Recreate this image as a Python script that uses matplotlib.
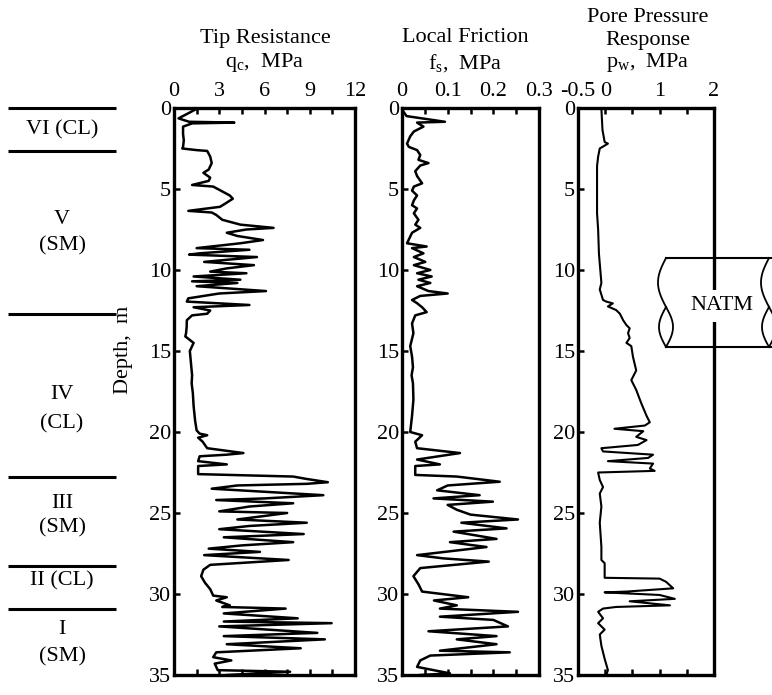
import numpy as np
import matplotlib
matplotlib.use("Agg")
import matplotlib.pyplot as plt

plt.rcParams['font.family'] = ['Liberation Serif', 'DejaVu Serif']
plt.rcParams['mathtext.fontset'] = 'custom'
plt.rcParams['mathtext.rm'] = 'Liberation Serif'
plt.rcParams['mathtext.it'] = 'Liberation Serif:italic'

# ---------------- data (depth in m, values in MPa) ----------------
qc_depth = [0.05, 0.3, 0.64, 0.85, 0.9, 0.95, 1.15, 1.6, 2.0, 2.4, 2.5, 2.6, 2.65, 3.0, 3.4, 3.8, 4.0, 4.3, 4.5, 4.75,
            4.85, 5.2, 5.4, 5.6, 5.9, 6.1, 6.35, 6.45, 6.6, 6.9, 7.2, 7.3, 7.4, 7.5, 7.7, 7.9, 8.15, 8.35, 8.65, 8.75,
            8.97, 9.05, 9.2, 9.5, 9.7, 9.9, 10.1, 10.2, 10.4, 10.6, 10.7, 10.8, 11.0, 11.3, 11.45, 11.75, 11.95, 12.16,
            12.3, 12.5, 12.7, 12.8, 13.1, 13.5, 13.9, 14.1, 14.5, 15.0, 15.5, 16.0, 16.5, 17.0, 17.6, 18.4, 19.3, 19.9,
            20.1, 20.2, 20.35, 20.6, 21.0, 21.3, 21.4, 21.5, 21.8, 22.0, 22.1, 22.6, 22.75, 22.9, 23.1, 23.2, 23.3, 23.5,
            23.9, 24.1, 24.2, 24.4, 24.6, 24.9, 25.0, 25.4, 25.6, 25.8, 26.0, 26.3, 26.5, 26.8, 27.0, 27.2, 27.4, 27.6,
            27.9, 28.2, 28.5, 28.9, 29.3, 29.7, 30.1, 30.2, 30.4, 30.7, 30.8, 30.9, 31.2, 31.5, 31.7, 31.8, 32.0, 32.4,
            32.6, 32.8, 33.1, 33.35, 33.6, 33.9, 34.1, 34.3, 34.7, 34.8, 35.0]
qc_value = [1.5, 1.0, 0.3, 1.0, 4.0, 1.2, 0.6, 0.6, 0.65, 0.6, 0.55, 1.5, 2.2, 2.4, 2.5, 2.3, 1.95, 2.4, 2.3, 1.2,
            2.6, 3.3, 3.7, 3.9, 3.4, 3.05, 0.95, 2.5, 2.8, 3.2, 4.4, 5.5, 6.6, 4.8, 3.5, 4.2, 5.9, 4.4, 1.5, 5.0,
            1.7, 1.0, 5.5, 2.0, 5.3, 3.5, 2.4, 4.8, 1.3, 4.4, 1.2, 4.2, 1.5, 6.1, 3.0, 0.95, 0.85, 5.0,
            1.3, 2.4, 2.2, 1.2, 0.85, 0.84, 0.8, 0.75, 1.3, 1.05, 1.1, 1.15, 1.2, 1.17, 1.25, 1.3, 1.4, 1.5,
            1.7, 2.2, 1.6, 1.9, 2.2, 4.6, 3.5, 1.7, 1.6, 3.5, 1.6, 1.6, 7.9, 8.8, 10.2, 8.8, 4.2, 2.5,
            9.9, 6.0, 2.8, 7.9, 5.0, 3.0, 7.5, 4.2, 8.8, 5.0, 3.0, 8.6, 3.3, 7.9, 4.5, 2.3, 5.7, 2.0,
            7.6, 2.4, 1.95, 1.8, 2.05, 2.4, 2.6, 3.5, 2.8, 3.7, 3.2, 7.4, 3.3, 8.2, 3.3, 10.45, 3.0, 9.5,
            3.3, 10.0, 3.5, 8.4, 2.8, 2.6, 3.8, 2.7, 2.9, 7.7, 3.5]

fs_depth = [0.1, 0.5, 0.85, 0.9, 1.15, 1.45, 1.75, 2.2, 2.4, 2.6, 2.9, 3.2, 3.4, 3.55, 3.9, 4.2, 4.65, 4.85, 5.1,
            5.4, 5.7, 6.0, 6.2, 6.5, 6.9, 7.2, 7.4, 7.7, 8.35, 8.55, 8.65, 8.97, 9.2, 9.5, 9.7, 10.0, 10.2, 10.4,
            10.6, 10.8, 11.0, 11.3, 11.45, 11.6, 11.85, 12.05, 12.3, 12.6, 12.8, 13.3, 13.9, 14.7, 15.35, 16.0, 16.5,
            17.0, 18.0, 19.0, 20.0, 20.2, 20.6, 21.0, 21.3, 21.7, 22.0, 22.1, 22.65, 22.75, 23.07, 23.3, 23.6, 23.9,
            24.1, 24.3, 24.5, 24.8, 25.1, 25.4, 25.6, 25.95, 26.15, 26.6, 26.8, 27.1, 27.6, 27.8, 28.0, 28.4, 28.9,
            29.4, 29.85, 30.2, 30.4, 30.7, 30.9, 31.1, 31.4, 31.6, 32.0, 32.3, 32.6, 32.8, 33.1, 33.5, 33.6, 33.8,
            34.1, 34.5, 34.9, 35.0]
fs_value = [0.0, 0.01, 0.094, 0.033, 0.047, 0.026, 0.018, 0.011, 0.015, 0.033, 0.04, 0.036, 0.058, 0.04, 0.029, 0.033,
            0.044, 0.026, 0.022, 0.033, 0.026, 0.022, 0.033, 0.026, 0.036, 0.029, 0.04, 0.022, 0.011, 0.054, 0.022,
            0.047, 0.026, 0.051, 0.026, 0.062, 0.033, 0.065, 0.036, 0.062, 0.033, 0.058, 0.1, 0.04, 0.022, 0.033,
            0.044, 0.054, 0.029, 0.022, 0.025, 0.018, 0.022, 0.024, 0.021, 0.024, 0.025, 0.022, 0.018, 0.044, 0.029,
            0.033, 0.127, 0.033, 0.083, 0.029, 0.029, 0.12, 0.214, 0.1, 0.077, 0.17, 0.069, 0.199, 0.1, 0.12, 0.15,
            0.254, 0.13, 0.229, 0.113, 0.207, 0.105, 0.185, 0.033, 0.09, 0.19, 0.04, 0.025, 0.036, 0.044, 0.145,
            0.07, 0.12, 0.083, 0.254, 0.083, 0.2, 0.232, 0.058, 0.207, 0.12, 0.207, 0.083, 0.236, 0.062, 0.04,
            0.033, 0.105, 0.04]

pw_depth = [0.05, 1.35, 2.1, 2.2, 2.5, 3.0, 3.6, 5.0, 6.5, 7.5, 9.0, 10.0, 10.8, 11.2, 11.85, 11.95, 12.06, 12.25,
            12.47, 12.7, 13.1, 13.4, 13.6, 13.9, 14.2, 14.5, 14.7, 15.35, 16.2, 16.8, 17.4, 18.2, 19.0, 19.4, 19.6,
            19.8, 19.95, 20.3, 20.5, 20.8, 21.0, 21.2, 21.4, 21.6, 21.8, 21.95, 22.25, 22.4, 22.5, 22.96, 23.4, 23.8,
            24.6, 25.6, 27.1, 27.9, 28.1, 29.0, 29.05, 29.25, 29.65, 29.85, 29.9, 30.06, 30.3, 30.45, 30.7, 30.8,
            30.9, 31.1, 31.5, 31.8, 32.2, 32.5, 33.2, 34.0, 34.7, 35.0]
pw_value = [-0.07, -0.05, -0.01, 0.05, -0.1, -0.13, -0.15, -0.15, -0.15, -0.13, -0.115, -0.09, -0.07, -0.1, -0.04,
            0.02, 0.14, 0.05, 0.2, 0.27, 0.33, 0.39, 0.45, 0.42, 0.45, 0.39, 0.48, 0.51, 0.57, 0.48, 0.57, 0.66,
            0.76, 0.82, 0.73, 0.17, 0.70, 0.57, 0.76, 0.6, -0.07, -0.04, 0.88, 0.79, 0.05, 0.88, 0.82, 0.91, -0.13,
            -0.1, -0.04, -0.1, -0.07, -0.1, -0.07, -0.07, -0.01, -0.01, 1.0, 1.12, 1.25, 0.39, -0.01, 1.0, 1.28,
            0.45, 1.19, 0.2, -0.04, -0.13, -0.04, -0.13, -0.01, -0.1, -0.07, -0.01, 0.05, 0.02]

depth_ticks = [0, 5, 10, 15, 20, 25, 30, 35]

layer_bounds = [0.0, 2.65, 12.7, 22.8, 28.3, 30.9]
layer_labels = [("VI (CL)", 1.35), ("V", 6.9), ("(SM)", 8.5), ("IV", 17.7), ("(CL)", 19.5),
                ("III", 24.4), ("(SM)", 25.9), ("II (CL)", 29.2), ("I", 32.2), ("(SM)", 33.9)]

# ---------------- figure ----------------
W, H = 772, 695
fig = plt.figure(figsize=(W / 100, H / 100), dpi=100)
FS = 16


def px_rect(x0, x1, y0, y1):
    return [x0 / W, 1 - y1 / H, (x1 - x0) / W, (y1 - y0) / H]


def style_axis(ax, xlim, major, minor, labels):
    ax.set_xlim(*xlim)
    ax.set_ylim(35, 0)
    ax.set_xticks(major)
    ax.set_xticklabels(labels)
    ax.set_xticks(minor, minor=True)
    ax.set_yticks(depth_ticks)
    ax.set_yticklabels([str(d) for d in depth_ticks])
    ax.xaxis.tick_top()
    ax.tick_params(axis='x', which='both', top=True, bottom=True, labeltop=True, labelbottom=False,
                   direction='in', length=4, width=1.8, labelsize=FS, pad=5)
    ax.tick_params(axis='y', which='both', left=True, right=False, direction='in', length=4, width=1.8,
                   labelsize=FS, pad=2)
    for s in ax.spines.values():
        s.set_linewidth(2.4)
    ax.set_facecolor('none')


y_top, y_bot = 108, 675
ax1 = fig.add_axes(px_rect(174, 355, y_top, y_bot))
ax1.plot(qc_value, qc_depth, color='black', lw=1.8)
style_axis(ax1, (0, 12), [0, 3, 6, 9, 12], [1.5, 4.5, 7.5, 10.5], ['0', '3', '6', '9', '12'])

ax2 = fig.add_axes(px_rect(402, 539, y_top, y_bot))
ax2.plot(fs_value, fs_depth, color='black', lw=1.8)
style_axis(ax2, (0, 0.3), [0, 0.1, 0.2, 0.3], [0.05, 0.15, 0.25], ['0', '0.1', '0.2', '0.3'])

ax3 = fig.add_axes(px_rect(578, 714, y_top, y_bot))
ax3.plot(pw_value, pw_depth, color='black', lw=1.5)
style_axis(ax3, (-0.5, 2), [-0.5, 0, 0.5, 1, 1.5, 2], [], ['-0.5', '0', '', '1', '', '2'])


def ftext(x, y, s, **kw):
    fig.text(x / W, 1 - y / H, s, ha='center', va='center', fontsize=FS, **kw)


ftext(265, 38, "Tip Resistance")
ftext(265, 63, r"q$_{\mathrm{c}}$,  MPa")
ftext(465, 38, "Local Friction")
ftext(465, 63, r"f$_{\mathrm{s}}$,  MPa")
ftext(648, 17, "Pore Pressure")
ftext(648, 41, "Response")
ftext(648, 63, r"p$_{\mathrm{w}}$,  MPa")
ftext(124, 350, "Depth,  m", rotation=90)

# overlay in pixel coordinates for annotations
ov = fig.add_axes([0, 0, 1, 1])
ov.set_xlim(0, W)
ov.set_ylim(H, 0)
ov.axis('off')
ov.set_facecolor('none')

scale = (y_bot - y_top) / 35.0
for d in layer_bounds:
    yy = y_top + d * scale
    ov.plot([8, 116], [yy, yy], color='black', lw=2.2, solid_capstyle='butt')
for txt, d in layer_labels:
    ov.text(62, y_top + d * scale, txt, ha='center', va='center', fontsize=FS)

# NATM tunnel symbol
top, mid, bot = 258, 307, 347
ov.plot([666, 772], [top, top], color='black', lw=1.5)
ov.plot([666, 772], [bot, bot], color='black', lw=1.5)
for xc in (666, 769):
    t = np.linspace(0, 1, 40)
    ov.plot(xc - 8 * np.sin(np.pi * t), top + (mid - top) * t, color='black', lw=1.3)
    ov.plot(xc + 7 * np.sin(np.pi * t), mid + (bot - mid) * t, color='black', lw=1.3)
    ov.plot(xc - 7 * np.sin(np.pi * t), mid + (bot - mid) * t, color='black', lw=1.3)
ov.text(722, 306, "NATM", ha='center', va='center', fontsize=FS,
        bbox=dict(facecolor='white', edgecolor='none', pad=5))

fig.savefig("out.png", dpi=100)
